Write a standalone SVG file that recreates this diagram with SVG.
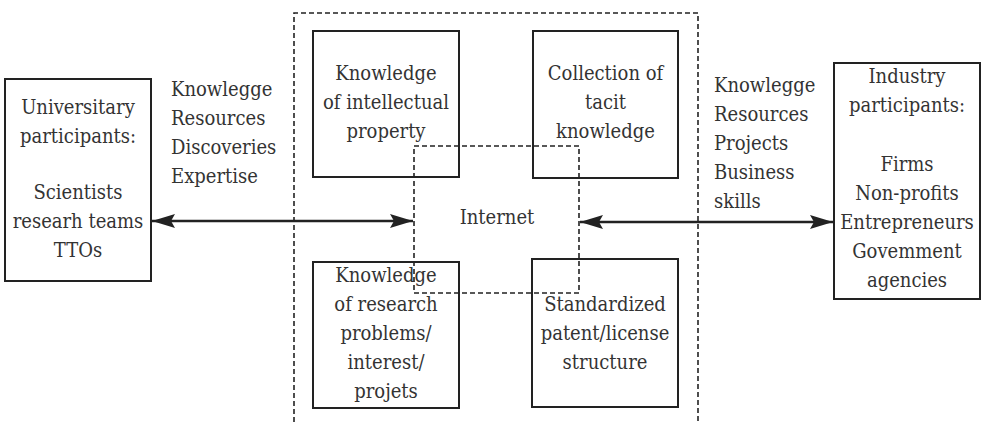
<svg xmlns="http://www.w3.org/2000/svg" width="982" height="422" viewBox="0 0 982 422">
<style>
text{font-family:'DejaVu Serif Condensed','DejaVu Serif',serif;font-stretch:condensed;font-size:20px;fill:#333}
.c{text-anchor:middle}
.box{fill:none;stroke:#222;stroke-width:2}
.dash{fill:none;stroke:#222;stroke-width:1.6;stroke-dasharray:5 3}
.arr{stroke:#222;stroke-width:2.5;fill:none;marker-start:url(#ah);marker-end:url(#ah)}
</style>
<defs>
<marker id="ah" markerUnits="userSpaceOnUse" markerWidth="24" markerHeight="14" refX="23" refY="7" orient="auto-start-reverse" viewBox="0 0 24 14">
<path d="M0,0 L23,7 L0,14 L4,7 Z" fill="#222"/>
</marker>
</defs>
<rect width="982" height="422" fill="#fff"/>
<g id="platform">
<path class="dash" d="M294,422 V13 H698 V422"/>
</g>
<g id="internet">
<rect class="dash" x="414" y="146" width="165" height="147"/>
<text class="c" x="497" y="224">Internet</text>
</g>
<g id="university">
<rect class="box" x="5" y="79" width="146" height="202"/>
<text class="c" x="78" y="114">Universitary</text>
<text class="c" x="78" y="143">participants:</text>
<text class="c" x="78" y="199">Scientists</text>
<text class="c" x="78" y="228">researh teams</text>
<text class="c" x="78" y="257">TTOs</text>
</g>
<g id="univ-flows">
<text x="171" y="96">Knowlegge</text>
<text x="171" y="125">Resources</text>
<text x="171" y="154">Discoveries</text>
<text x="171" y="183">Expertise</text>
</g>
<g id="ip">
<rect class="box" x="313" y="31" width="146" height="146"/>
<text class="c" x="386" y="80">Knowledge</text>
<text class="c" x="386" y="109">of intellectual</text>
<text class="c" x="386" y="138">property</text>
</g>
<g id="tacit">
<rect class="box" x="533" y="31" width="145" height="147"/>
<text class="c" x="605.5" y="80">Collection of</text>
<text class="c" x="605.5" y="109">tacit</text>
<text class="c" x="605.5" y="138">knowledge</text>
</g>
<g id="research">
<rect class="box" x="313" y="262" width="146" height="146"/>
<text class="c" x="386" y="282">Knowledge</text>
<text class="c" x="386" y="311">of research</text>
<text class="c" x="386" y="340">problems/</text>
<text class="c" x="386" y="369">interest/</text>
<text class="c" x="386" y="398">projets</text>
</g>
<g id="patent">
<rect class="box" x="532" y="259" width="146" height="148"/>
<text class="c" x="605" y="311">Standardized</text>
<text class="c" x="605" y="340">patent/license</text>
<text class="c" x="605" y="369">structure</text>
</g>
<g id="industry">
<rect class="box" x="834" y="63" width="146" height="236"/>
<text class="c" x="907" y="83">Industry</text>
<text class="c" x="907" y="112">participants:</text>
<text class="c" x="907" y="171">Firms</text>
<text class="c" x="907" y="200">Non-profits</text>
<text class="c" x="907" y="229">Entrepreneurs</text>
<text class="c" x="907" y="258">Govemment</text>
<text class="c" x="907" y="287">agencies</text>
</g>
<g id="ind-flows">
<text x="714" y="92">Knowlegge</text>
<text x="714" y="121">Resources</text>
<text x="714" y="150">Projects</text>
<text x="714" y="179">Business</text>
<text x="714" y="208">skills</text>
</g>
<g id="connectors">
<line class="arr" x1="152" y1="221" x2="413" y2="221"/>
<line class="arr" x1="580" y1="222" x2="833" y2="222"/>
</g>
</svg>
